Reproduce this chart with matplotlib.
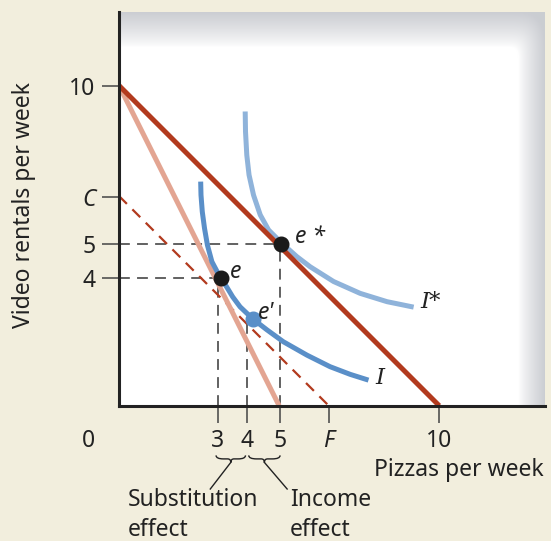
import numpy as np
import matplotlib
matplotlib.use('Agg')
import matplotlib.pyplot as plt
from matplotlib.path import Path
from matplotlib.patches import PathPatch

plt.rcParams['font.family'] = ['Noto Sans', 'DejaVu Sans']
FS = 16.5

# budget lines (x = pizzas, y = video rentals)
old_budget_x = [0, 5]
old_budget_y = [10, 0]
new_budget_x = [0, 10]
new_budget_y = [10, 0]
comp_budget_x = [0, 6.55]
comp_budget_y = [6.55, 0]

# indifference curves
curve_I_x = [2.55, 2.56, 2.60, 2.67, 2.76, 2.90, 3.10, 3.32, 3.55, 3.78,
             4.18, 4.62, 5.13, 5.87, 6.59, 7.22, 7.79]
curve_I_y = [7.00, 6.58, 6.06, 5.54, 5.02, 4.50, 4.12, 3.78, 3.40, 3.09,
             2.71, 2.37, 2.00, 1.58, 1.22, 0.98, 0.80]
curve_Istar_x = [3.94, 3.95, 3.99, 4.06, 4.20, 4.41, 4.67, 5.08, 5.55, 5.97,
                 6.70, 7.53, 8.37, 9.20]
curve_Istar_y = [9.19, 8.56, 7.83, 7.21, 6.58, 5.96, 5.49, 5.08, 4.66, 4.34,
                 3.88, 3.51, 3.25, 3.08]

# equilibrium points
pt_e = (3.2, 3.98)
pt_estar = (5.07, 5.05)
pt_eprime = (4.18, 2.71)

xtick_pos = [3.08, 4.0, 5.03, 6.55, 10]
xtick_lab = ['3', '4', '5', 'F', '10']
ytick_pos = [10, 6.52, 5.05, 4.0]
ytick_lab = ['10', 'C', '5', '4']

BG = '#f2eedd'
DARK_RED = '#b23a1e'
LIGHT_RED = '#e3a592'
BLUE = '#5a8fc8'
LIGHT_BLUE = '#8fb3da'
DASH_GRAY = '#555555'
TXT = '#222222'

xmax, ymax = 13.3, 12.3

fig = plt.figure(figsize=(5.51, 5.41), dpi=100, facecolor=BG)
ax = fig.add_axes([0.216, 0.250, 0.773, 0.728])
ax.set_xlim(0, xmax)
ax.set_ylim(0, ymax)

# panel shading: grey fade along top and right edges, rounded inner corner
W, H = 426, 394
px = np.arange(W)[None, :] + 0.5
py = np.arange(H)[:, None] + 0.5
xs, ys, off = W - 22, 35, 18
u = np.clip((px - (xs - off)) / (22 + off), 0, 1)
v = np.clip(((ys + off) - py) / (35 + off), 0, 1)
s = (u ** 4 + v ** 4) ** 0.25
a = off / (35 + off)
t = np.clip((s - a) / (1 - a), 0, 1) ** 0.8
edge = np.array([203, 205, 210]) / 255.0
img = 1 - t[..., None] * (1 - edge[None, None, :])
ax.imshow(img, extent=[0, xmax, 0, ymax], aspect='auto', zorder=0,
          interpolation='bilinear')

for sp in ['top', 'right']:
    ax.spines[sp].set_visible(False)
for sp in ['left', 'bottom']:
    ax.spines[sp].set_linewidth(2.2)
    ax.spines[sp].set_color(TXT)
    ax.spines[sp].set_zorder(6)

# dashed guide lines
dash_kw = dict(color=DASH_GRAY, lw=1.3, dashes=(6, 4), zorder=2)
ax.plot([0, pt_e[0]], [pt_e[1], pt_e[1]], **dash_kw)
ax.plot([0, pt_estar[0]], [pt_estar[1], pt_estar[1]], **dash_kw)
ax.plot([xtick_pos[0], xtick_pos[0]], [0, pt_e[1]], **dash_kw)
ax.plot([xtick_pos[1], xtick_pos[1]], [0, pt_eprime[1]], **dash_kw)
ax.plot([xtick_pos[2], xtick_pos[2]], [0, pt_estar[1]], **dash_kw)

ax.plot(comp_budget_x, comp_budget_y, color=DARK_RED, lw=1.6, dashes=(5, 3.5), zorder=3)
ax.plot(old_budget_x, old_budget_y, color=LIGHT_RED, lw=3.6, zorder=3, solid_capstyle='butt')
ax.plot(new_budget_x, new_budget_y, color=DARK_RED, lw=3.6, zorder=4, solid_capstyle='butt')
ax.plot(curve_I_x, curve_I_y, color=BLUE, lw=3.6, zorder=4, solid_capstyle='butt',
        solid_joinstyle='round')
ax.plot(curve_Istar_x, curve_Istar_y, color=LIGHT_BLUE, lw=3.6, zorder=3,
        solid_capstyle='butt', solid_joinstyle='round')

ax.plot(*pt_e, 'o', color='#1a1a1a', ms=10.5, zorder=5)
ax.plot(*pt_estar, 'o', color='#1a1a1a', ms=10.5, zorder=5)
ax.plot(*pt_eprime, 'o', color=BLUE, ms=10.5, zorder=5)

lab_kw = dict(fontsize=FS, color=TXT, zorder=6, va='center')
ax.text(5.5, 5.28, 'e *', style='italic', **lab_kw)
ax.text(3.45, 4.19, 'e', style='italic', **lab_kw)
ax.text(4.33, 2.89, "e'", style='italic', **lab_kw)
ax.text(8.0, 0.86, 'I', family='DejaVu Serif', style='italic', **lab_kw)
ax.text(9.4, 3.25, 'I*', family='DejaVu Serif', style='italic', **lab_kw)

# ticks
ax.set_xticks(xtick_pos)
ax.set_xticklabels(xtick_lab)
ax.set_yticks(ytick_pos)
ax.set_yticklabels(ytick_lab)
ax.tick_params(axis='both', length=12, width=1.1, color='#444444', pad=5,
               labelsize=FS, labelcolor=TXT)
for lab in ax.get_xticklabels() + ax.get_yticklabels():
    if lab.get_text() in ('C', 'F'):
        lab.set_fontstyle('italic')

ax.text(-0.97, -1.1, '0', fontsize=FS, color=TXT, ha='center', va='center')
ax.text(10.6, -2.0, 'Pizzas per week', fontsize=FS, color=TXT,
        ha='center', va='center', clip_on=False)
ax.text(-2.97, 6.27, 'Video rentals per week', fontsize=FS, color=TXT,
        ha='center', va='center', rotation=90)


def brace(x0, x1, y0, h):
    mid = (x0 + x1) / 2
    q = (x1 - x0) / 4
    verts = [(mid, y0 - h), (mid, y0 - h / 2), (mid - 0.1, y0 - h / 2),
             (x0 + q, y0 - h / 2), (x0, y0 - h / 2), (x0, y0),
             (mid, y0 - h), (mid, y0 - h / 2), (mid + 0.1, y0 - h / 2),
             (x1 - q, y0 - h / 2), (x1, y0 - h / 2), (x1, y0)]
    codes = [Path.MOVETO, Path.CURVE3, Path.CURVE3, Path.LINETO,
             Path.CURVE3, Path.CURVE3,
             Path.MOVETO, Path.CURVE3, Path.CURVE3, Path.LINETO,
             Path.CURVE3, Path.CURVE3]
    ax.add_patch(PathPatch(Path(verts, codes), fill=False, lw=1.0, color=TXT,
                           clip_on=False))
    return mid, y0 - h


m1, t1 = brace(xtick_pos[0] - 0.05, xtick_pos[1] - 0.05, -1.55, 0.22)
m2, t2 = brace(xtick_pos[1] + 0.05, xtick_pos[2], -1.55, 0.22)
ax.plot([m1, 2.85], [t1, -2.6], color=TXT, lw=1.0, clip_on=False)
ax.plot([m2, 5.25], [t2, -2.6], color=TXT, lw=1.0, clip_on=False)

ax.text(0.28, -2.95, 'Substitution', fontsize=FS, color=TXT, va='center')
ax.text(0.28, -3.88, 'effect', fontsize=FS, color=TXT, va='center')
ax.text(5.34, -2.95, 'Income', fontsize=FS, color=TXT, va='center')
ax.text(5.34, -3.88, 'effect', fontsize=FS, color=TXT, va='center')

fig.savefig('out.png', dpi=100, facecolor=BG)
